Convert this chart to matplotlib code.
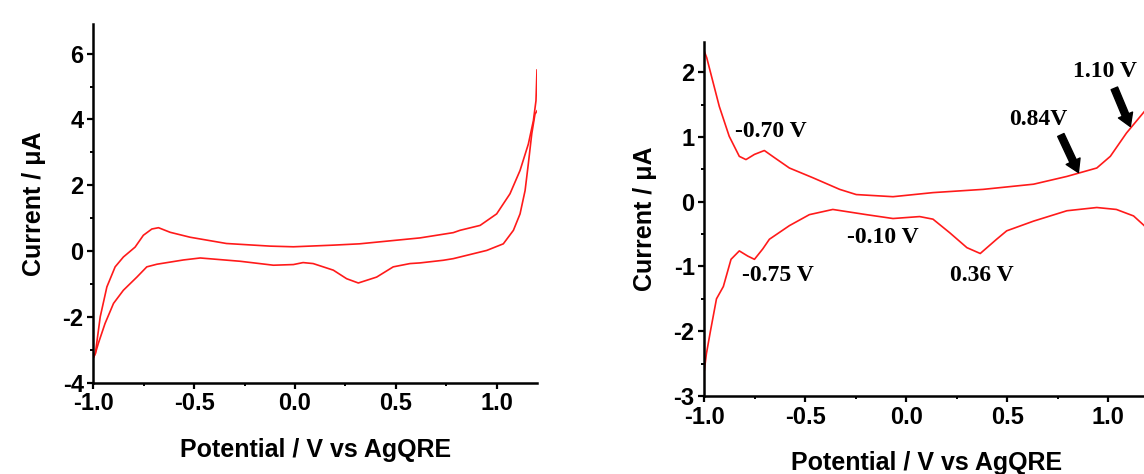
import matplotlib.pyplot as plt
from matplotlib.ticker import MultipleLocator

# left CV: forward (upper) and reverse (lower) branches
left_fwd_x = [-1.0, -0.99, -0.966, -0.933, -0.892, -0.851, -0.793, -0.752, -0.71, -0.677,
              -0.619, -0.52, -0.34, -0.123, -0.008, 0.19, 0.32, 0.57, 0.62, 0.785,
              0.818, 0.918, 1.0, 1.066, 1.116, 1.157, 1.182, 1.195, 1.2]
left_fwd_y = [-3.24, -3.11, -2.0, -1.09, -0.48, -0.18, 0.12, 0.48, 0.67, 0.71,
              0.57, 0.42, 0.23, 0.15, 0.13, 0.18, 0.22, 0.37, 0.40, 0.56,
              0.63, 0.78, 1.13, 1.74, 2.45, 3.25, 3.96, 4.57, 5.5]
left_rev_x = [1.2, 1.19, 1.174, 1.157, 1.141, 1.116, 1.083, 1.033, 0.951, 0.785,
              0.735, 0.62, 0.57, 0.487, 0.405, 0.314, 0.256, 0.19, 0.09, 0.04,
              -0.008, -0.107, -0.272, -0.47, -0.553, -0.685, -0.735, -0.784, -0.851, -0.90,
              -0.942, -0.975, -0.99, -1.0]
left_rev_y = [4.26, 4.16, 3.56, 2.65, 1.84, 1.13, 0.63, 0.22, 0.02, -0.23,
              -0.28, -0.36, -0.38, -0.48, -0.79, -0.97, -0.84, -0.58, -0.38, -0.35,
              -0.41, -0.43, -0.31, -0.21, -0.27, -0.40, -0.48, -0.79, -1.19, -1.59,
              -2.2, -2.8, -3.11, -3.24]

# right CV (zoomed)
right_fwd_x = [-1.0, -0.988, -0.96, -0.926, -0.877, -0.827, -0.794, -0.752, -0.703, -0.653,
               -0.579, -0.463, -0.33, -0.248, -0.066, 0.132, 0.38, 0.63, 0.795, 0.943,
               1.01, 1.09, 1.178, 1.2]
right_fwd_y = [2.32, 2.22, 1.88, 1.47, 1.01, 0.70, 0.65, 0.73, 0.79, 0.68,
               0.52, 0.37, 0.19, 0.11, 0.077, 0.14, 0.19, 0.27, 0.39, 0.52,
               0.70, 1.06, 1.39, 1.48]
right_rev_x = [1.2, 1.178, 1.125, 1.04, 0.943, 0.795, 0.63, 0.497, 0.447, 0.366,
               0.30, 0.215, 0.132, 0.066, -0.066, -0.198, -0.364, -0.48, -0.579, -0.678,
               -0.711, -0.752, -0.785, -0.827, -0.868, -0.906, -0.94, -0.97, -0.99, -1.0]
right_rev_y = [-0.48, -0.37, -0.22, -0.12, -0.09, -0.14, -0.30, -0.45, -0.58, -0.80,
               -0.71, -0.48, -0.27, -0.23, -0.26, -0.20, -0.12, -0.20, -0.37, -0.58,
               -0.73, -0.89, -0.84, -0.76, -0.89, -1.31, -1.5, -2.0, -2.35, -2.6]

# peak labels: text, x, y
peak_labels = ['-0.70 V', '-0.75 V', '-0.10 V', '0.36 V', '0.84V', '1.10 V']
peak_x = [-0.67, -0.637, -0.116, 0.373, 0.654, 0.985]
peak_y = [1.09, -1.14, -0.55, -1.14, 1.27, 2.01]
# arrows: tail -> tip
arrow_tail = [(0.765, 1.03), (1.03, 1.75)]
arrow_tip = [(0.852, 0.45), (1.109, 1.16)]

plt.rcParams['font.family'] = 'Liberation Sans'
plt.rcParams['font.weight'] = 'bold'
plt.rcParams['axes.unicode_minus'] = False

fig = plt.figure(figsize=(11.44, 4.74), dpi=100)
ax1 = fig.add_axes([0.0816, 0.1926, 0.3878, 0.7568])
ax2 = fig.add_axes([0.6157, 0.1646, 0.3884, 0.7474])

red = '#ff1a1a'
ax1.plot(left_fwd_x, left_fwd_y, color=red, lw=1.2)
ax1.plot(left_rev_x, left_rev_y, color=red, lw=1.2)
ax2.plot(right_fwd_x, right_fwd_y, color=red, lw=1.2)
ax2.plot(right_rev_x, right_rev_y, color=red, lw=1.2)

ax1.set_xlim(-1.0, 1.2)
ax1.set_ylim(-4, 6.9)
ax1.yaxis.set_major_locator(MultipleLocator(2))
ax1.yaxis.set_minor_locator(MultipleLocator(1))

ax2.set_xlim(-1.0, 1.2)
ax2.set_ylim(-3, 2.47)
ax2.yaxis.set_major_locator(MultipleLocator(1))
ax2.yaxis.set_minor_locator(MultipleLocator(0.5))

for ax in (ax1, ax2):
    ax.xaxis.set_minor_locator(MultipleLocator(0.25))
    ax.set_xticks([-1.0, -0.5, 0.0, 0.5, 1.0])
    ax.set_xticklabels(['-1.0', '-0.5', '0.0', '0.5', '1.0'])
    ax.spines['top'].set_visible(False)
    ax.spines['right'].set_visible(False)
    ax.spines['left'].set_linewidth(1.8)
    ax.spines['bottom'].set_linewidth(1.8)
    ax.tick_params(which='major', direction='out', length=4, width=1.6, labelsize=17, pad=3)
    ax.tick_params(which='minor', direction='out', length=2.5, width=1.4)
    ax.set_xlabel('Potential / V vs AgQRE', fontsize=18, fontweight='bold', labelpad=16)
    ax.set_ylabel('Current / μA', fontsize=18, fontweight='bold', labelpad=12)

for lab, x, y in zip(peak_labels, peak_x, peak_y):
    ax2.text(x, y, lab, family='Liberation Serif', fontweight='bold', fontsize=17,
             ha='center', va='center')

for tail, tip in zip(arrow_tail, arrow_tip):
    ax2.annotate('', xy=tip, xytext=tail,
                 arrowprops=dict(facecolor='black', edgecolor='black',
                                 width=5, headwidth=11, headlength=9, shrink=0))

fig.savefig('out.png', dpi=100)
